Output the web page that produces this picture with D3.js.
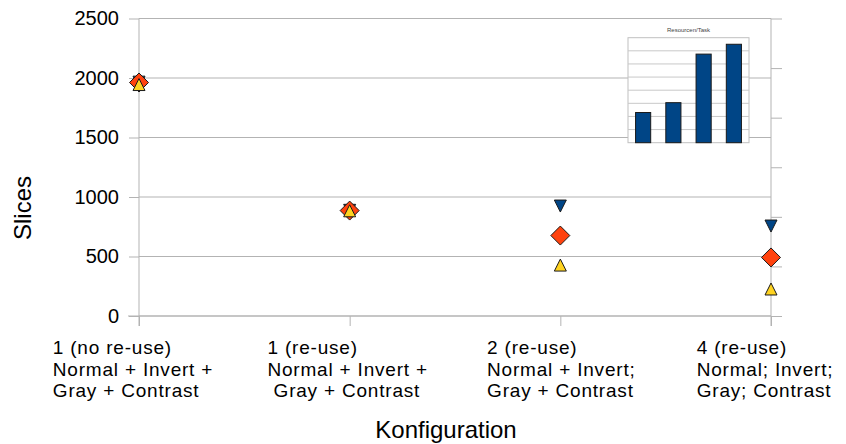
<!DOCTYPE html>
<html><head><meta charset="utf-8">
<script src="https://cdn.jsdelivr.net/npm/d3@7"></script>
<style>
body{margin:0;background:#fff;}
svg{display:block;font-family:"Liberation Sans",Arial,sans-serif;}
text{white-space:pre;}
</style></head>
<body><svg id="c" width="846" height="444"></svg>
<script>
const categories = ["c1","c2","c3","c4"];
const categoryLabels = [
  ["1 (no re-use)","Normal + Invert +","Gray + Contrast"],
  ["1 (re-use)","Normal + Invert +"," Gray + Contrast"],
  ["2 (re-use)","Normal + Invert;","Gray + Contrast"],
  ["4 (re-use)","Normal; Invert;","Gray; Contrast"]
];
const seriesMax  = [1965, 888, 924, 756];   // blue, down triangle
const seriesMean = [1962, 886, 676, 492];   // orange, diamond
const seriesMin  = [1945, 884, 428, 227];   // yellow, up triangle
const yTicks = [0,500,1000,1500,2000,2500];
const insetValues = [2.3, 3.05, 6.75, 7.5];
const insetTitle = "Resourcen/Task";

const svg = d3.select("#c");
const L=139, R=771, T=18.5, B=316;
const x = d3.scalePoint().domain(categories).range([L,R]).padding(0);
const y = d3.scaleLinear().domain([0,2500]).range([B,T]);
const grid="#b3b3b3";

// horizontal gridlines
svg.append("g").selectAll("line").data(yTicks).join("line")
  .attr("x1",L).attr("x2",R).attr("y1",d=>y(d)).attr("y2",d=>y(d))
  .attr("stroke",grid).attr("stroke-width",1);

// right secondary axis (no labels)
const y2 = d3.scaleLinear().domain([0,6]).range([B,T]);
const ra = svg.append("g").attr("transform",`translate(${R},0)`)
  .call(d3.axisRight(y2).ticks(6).tickSize(11).tickFormat(""));
ra.select(".domain").attr("stroke",grid).attr("stroke-width",1).attr("d",`M0,${T}V${B+10}`);
ra.selectAll(".tick line").attr("stroke",grid).attr("stroke-width",1);

// y axis
const ya = svg.append("g").attr("transform",`translate(${L},0)`)
  .call(d3.axisLeft(y).tickValues(yTicks).tickFormat(d3.format("d")).tickSize(10).tickPadding(10));
ya.select(".domain").attr("stroke",grid).attr("stroke-width",1).attr("d",`M0,${T}V${B+10}`);
ya.selectAll(".tick line").attr("stroke",grid).attr("stroke-width",1);
ya.selectAll(".tick text").attr("font-size",20).attr("fill","#000")
  .attr("font-family","'Liberation Sans',Arial,sans-serif");

// x axis
const xa = svg.append("g").attr("transform",`translate(0,${B})`)
  .call(d3.axisBottom(x).tickSize(10).tickFormat(""));
xa.select(".domain").attr("stroke",grid).attr("stroke-width",1).attr("d",`M${L-11},0H${R}`);
xa.selectAll(".tick line").attr("stroke",grid).attr("stroke-width",1);

// x labels (one text element per category, lines as tspans)
const shifts=[-6,-2,1,-6];
categories.forEach((c,i)=>{
  const t = svg.append("text").attr("font-size",19).attr("letter-spacing",0.8)
     .attr("y",354).attr("fill","#000");
  const spans = categoryLabels[i].map((s,j)=>t.append("tspan").text(s)
     .attr("dy", j===0 ? 0 : 21.5));
  const w = d3.max(spans,s=>s.node().getComputedTextLength());
  const left = x(c) - w/2 + shifts[i];
  spans.forEach(s=>s.attr("x",left));
});

// axis titles
svg.append("text").text("Konfiguration").attr("x",446).attr("y",438)
  .attr("text-anchor","middle").attr("font-size",24);
svg.append("text").text("Slices").attr("transform","translate(31,208) rotate(-90)")
  .attr("text-anchor","middle").attr("font-size",24);

// inset chart
const iL=628, iR=749, iT=37.7, iB=142.7;
const inset = svg.append("g");
inset.append("rect").attr("x",iL).attr("y",iT).attr("width",iR-iL).attr("height",iB-iT)
  .attr("fill","#fff").attr("stroke","#c0c0c0").attr("stroke-width",1);
const iy = d3.scaleLinear().domain([0,8]).range([iB,iT]);
const ix = d3.scaleBand().domain(d3.range(insetValues.length)).range([iL,iR]).paddingInner(0.5).paddingOuter(0.25);
inset.append("g").selectAll("line").data(d3.range(1,8)).join("line")
  .attr("x1",iL).attr("x2",iR).attr("y1",d=>iy(d)).attr("y2",d=>iy(d))
  .attr("stroke","#c8c8c8").attr("stroke-width",1);
inset.append("g").selectAll("rect").data(insetValues).join("rect")
  .attr("x",(d,i)=>ix(i)).attr("width",ix.bandwidth())
  .attr("y",d=>iy(d)).attr("height",d=>iB-iy(d))
  .attr("fill","#004586").attr("stroke","#1a1a1a").attr("stroke-width",1);
inset.append("text").text(insetTitle).attr("x",(iL+iR)/2).attr("y",32)
  .attr("text-anchor","middle").attr("font-size",6).attr("fill","#444");

// markers
const tri=6, dia=9.5;
const downTri = (cx,cy)=>`M${cx-tri},${cy-tri}L${cx+tri},${cy-tri}L${cx},${cy+tri}Z`;
const upTri = (cx,cy)=>`M${cx},${cy-tri}L${cx+tri},${cy+tri}L${cx-tri},${cy+tri}Z`;
const diamond = (cx,cy)=>`M${cx},${cy-dia}L${cx+dia},${cy}L${cx},${cy+dia}L${cx-dia},${cy}Z`;
const series = [
  {vals:seriesMax, shape:downTri, color:"#004586"},
  {vals:seriesMean, shape:diamond, color:"#ff420e"},
  {vals:seriesMin, shape:upTri, color:"#ffd320"}
];
series.forEach(s=>{
  svg.append("g").selectAll("path").data(s.vals).join("path")
    .attr("d",(d,i)=>s.shape(x(categories[i]),y(d)))
    .attr("fill",s.color).attr("stroke","#1a1a1a").attr("stroke-width",1);
});
</script></body></html>
